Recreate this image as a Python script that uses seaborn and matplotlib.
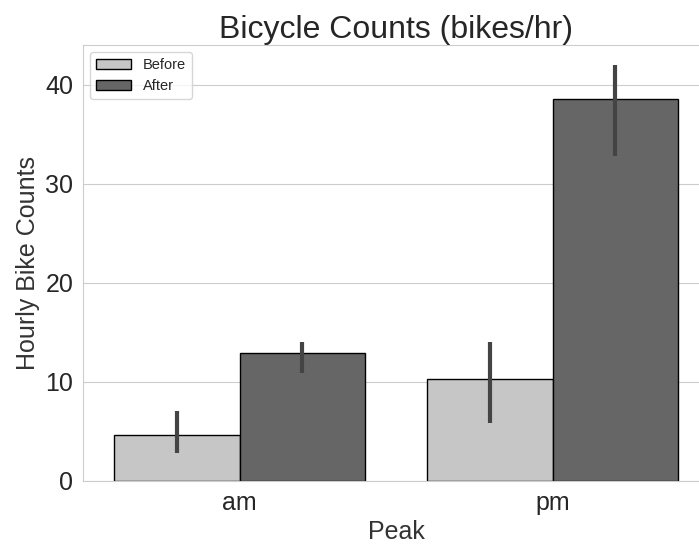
import pandas as pd
import seaborn as sns
import matplotlib.pyplot as plt
import numpy as np

# values
peaks = ['am', 'am', 'pm', 'pm']
periods = ['Before', 'After', 'Before', 'After']
counts = [4.65, 12.9, 10.3, 38.5]
ci_low = [2.8, 10.9, 5.9, 32.8]
ci_high = [7.1, 14.0, 14.0, 42.0]

df = pd.DataFrame({'Peak': peaks, 'Period': periods, 'Count': counts,
                   'lo': ci_low, 'hi': ci_high})

sns.set_style('whitegrid')
plt.rcParams['font.family'] = ['Arial', 'Liberation Sans', 'DejaVu Sans']

fig = plt.figure(figsize=(6.99, 5.44), dpi=100)
ax = fig.add_axes([83 / 699, 63 / 544, 626 / 699, 436 / 544])

sns.barplot(x='Peak', y='Count', hue='Period', data=df, ax=ax,
            hue_order=['Before', 'After'], order=['am', 'pm'],
            palette={'Before': '#c6c6c6', 'After': '#666666'},
            edgecolor='black', linewidth=1, errorbar=None, saturation=1)

# confidence intervals, one per bar
for cont, period in zip(ax.containers, ['Before', 'After']):
    sub = df[df['Period'] == period].set_index('Peak').loc[['am', 'pm']]
    for bar, lo, hi in zip(cont.patches, sub['lo'], sub['hi']):
        xc = bar.get_x() + bar.get_width() / 2
        ax.vlines(xc, lo, hi, color='#444444', linewidth=3, zorder=5)

ax.set_ylim(0, 44)
ax.set_xlim(-0.5, 1.5)
ax.set_yticks([0, 10, 20, 30, 40])
ax.set_title('Bicycle Counts (bikes/hr)', fontsize=23, color='#262626', pad=5)
ax.set_xlabel('Peak', fontsize=18, color='#333333')
ax.set_ylabel('Hourly Bike Counts', fontsize=18, color='#333333')
ax.tick_params(labelsize=18, labelcolor='#262626')

ax.legend(loc='upper left', fontsize=10.5, frameon=True, handlelength=2.4,
          borderaxespad=0.5)

fig.savefig('out.png', dpi=100)
